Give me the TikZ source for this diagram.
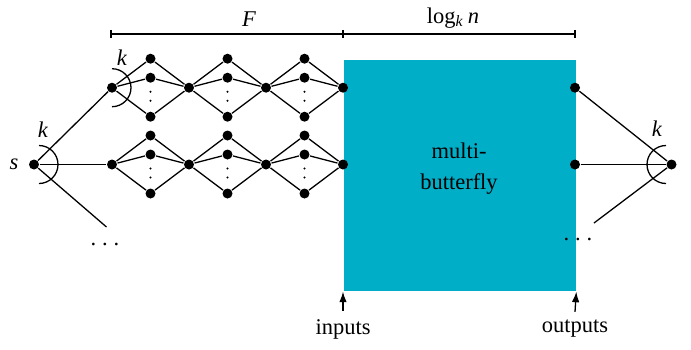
\documentclass[tikz,border=0pt]{standalone}
\usepackage{fontspec}
\setmainfont{Liberation Serif}
\usetikzlibrary{arrows.meta}
\definecolor{mbcyan}{RGB}{0,174,200}
\tikzset{
  dot/.style={circle, fill=black, inner sep=0pt, minimum size=0.15cm},
  smalldot/.style={circle, fill=black, inner sep=0pt, minimum size=0.035cm},
}
\begin{document}
\begin{tikzpicture}[x=0.015cm, y=-0.015cm, >={Latex[length=4.5pt,width=3.2pt]},
    line width=0.55pt, font=\fontsize{9.6}{11}\selectfont]
  \useasboundingbox (0,0) rectangle (691,349);
  % ==== MULTIBUTTERFLY BOX ====
  \node[fill=mbcyan, inner sep=0pt, minimum width=3.48cm, minimum height=3.47cm,
    anchor=north west] (mb) at (343,59) {};
  \node[align=center, font=\fontsize{9.6}{13.2}\selectfont] (mbtext) at (459,169) {multi-\\butterfly};
  % ==== SOURCE ====
  \node[dot] (s) at (34,164.5) {};
  \node (slab) at (14,164.5) {\textit{s}};
  % ==== TWO ROWS OF DIAMONDS ====
  \foreach \r/\y in {t/87.7, b/164.5} {
    \foreach \i/\x in {0/112, 1/189, 2/266, 3/343}
      \node[dot] (\r\i) at (\x,\y) {};
    \foreach \p/\i/\x in {0/1/150.5, 1/2/227.5, 2/3/304.5} {
      \node[dot] (\r\i a) at (\x,\y-29) {};
      \node[dot] (\r\i b) at (\x,\y-10) {};
      \node[dot] (\r\i c) at (\x,\y+29) {};
      \node[smalldot] (\r\i d) at (\x,\y+4) {};
      \node[smalldot] (\r\i e) at (\x,\y+13) {};
      \draw (\r\p) -- (\r\i a) -- (\r\i);
      \draw (\r\p) -- (\r\i b) -- (\r\i);
      \draw (\r\p) -- (\r\i c) -- (\r\i);
    }
  }
  \coordinate (sdots) at (106.5,227);
  \draw (s) -- (t0);
  \draw (s) -- (b0);
  \draw (s) -- (sdots);
  \node (ldots) at (105,244) {.\hspace{2.5pt}.\hspace{2.5pt}.};
  \draw (s) ++(5,-19) arc[start angle=-90, end angle=90, radius=19];
  \draw (t0) ++(0,-19) arc[start angle=-90, end angle=90, radius=19];
  \node (k1) at (43,130) {\textit{k}};
  \node (k2) at (122,58) {\textit{k}};
  % ==== OUTPUT SIDE ====
  \node[dot] (o1) at (575,87.7) {};
  \node[dot] (o2) at (575,164.5) {};
  \node[dot] (t) at (671.5,164.5) {};
  \coordinate (tdots) at (594,223);
  \draw (o1) -- (t);
  \draw (o2) -- (t);
  \draw (t) -- (tdots);
  \node (rdots) at (578,239) {.\hspace{2.5pt}.\hspace{2.5pt}.};
  \draw (t) ++(-5.5,-19) arc[start angle=-90, end angle=-270, radius=19];
  \node (k3) at (657,129) {\textit{k}};
  % ==== BRACKET ====
  \draw (111,34) -- (575,34);
  \foreach \x in {111,343,575}
    \draw (\x,30) -- (\x,38);
  \node (flab) at (249,19) {\textit{F}};
  \node (loglab) at (453,18) {log\textsubscript{\textit{k}}\,\textit{n}};
  % ==== INPUTS AND OUTPUTS ====
  \node (inlab) at (343,329) {inputs};
  \node (outlab) at (575,329) {outputs};
  \draw[->] (inlab.north) -- (mb.south west);
  \draw[->] (outlab.north) -- (mb.south east);
\end{tikzpicture}
\end{document}
